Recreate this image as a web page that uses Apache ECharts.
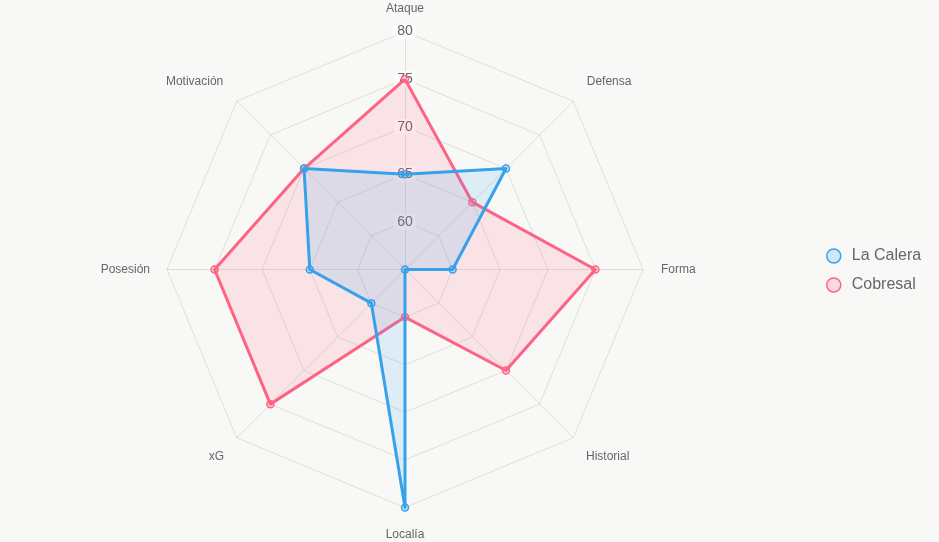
<!DOCTYPE html>
<html>
<head>
<meta charset="utf-8">
<script src="https://cdn.jsdelivr.net/npm/echarts@6/dist/echarts.min.js"></script>
<style>
  html, body { margin: 0; padding: 0; background: #f8f8f7; }
  #chart { width: 939px; height: 542px; }
</style>
</head>
<body>
<div id="chart"></div>
<script>
// categories in clockwise order starting at the top
const categories = ["Ataque", "Defensa", "Forma", "Historial", "Localía", "xG", "Posesión", "Motivación"];
const laCalera = [65, 70, 60, 55, 80, 60, 65, 70];
const cobresal = [75, 65, 75, 70, 60, 75, 75, 70];
const scaleMin = 55;
const scaleMax = 80;

// name placement per category: gap from the outer ring and a small vertical nudge
const nameGaps = [17, 19, 18, 18, 21, 18, 17, 19];
const nameNudge = ["", "up", "", "down", "", "down", "", "up"];

// echarts lays indicators out counter-clockwise, so flip the tail
const order = [0].concat(categories.map((_, i) => i).slice(1).reverse());
const pick = (arr) => order.map((i) => arr[i]);

const chart = echarts.init(document.getElementById("chart"));

const indicator = order.map((i, k) => {
  const item = { name: categories[i], min: scaleMin, max: scaleMax, nameGap: nameGaps[i] };
  if (k === 0) {
    item.axisLabel = {
      show: true,
      showMinLabel: false,
      margin: 0,
      align: "center",
      verticalAlign: "middle",
      color: "#666",
      fontSize: 14,
      fontFamily: "Liberation Sans",
      backgroundColor: "rgba(255,255,255,0.75)",
      padding: [1, 3],
    };
  }
  return item;
});

const nameFont = { color: "#666", fontSize: 12, fontFamily: "Liberation Sans" };

const option = {
  backgroundColor: "#f8f8f7",
  legend: {
    orient: "vertical",
    left: 821,
    top: 243,
    icon: "circle",
    itemWidth: 14,
    itemHeight: 14,
    itemGap: 13,
    textStyle: { color: "#666", fontSize: 16, fontFamily: "Liberation Sans", padding: [0, 0, 0, 6] },
    data: [
      { name: "La Calera", itemStyle: { color: "rgba(54,162,235,0.2)", borderColor: "#36A2EB", borderWidth: 1.5 } },
      { name: "Cobresal", itemStyle: { color: "rgba(255,99,132,0.2)", borderColor: "#FF6384", borderWidth: 1.5 } },
    ],
  },
  radar: {
    center: [405, 269.5],
    radius: 238,
    startAngle: 90,
    splitNumber: 5,
    shape: "polygon",
    indicator: indicator,
    axisName: {
      ...nameFont,
      formatter: (name) => {
        const nudge = nameNudge[categories.indexOf(name)];
        return nudge ? `{${nudge}|${name}}` : name;
      },
      rich: {
        up: { ...nameFont, padding: [0, 0, 12, 0] },
        down: { ...nameFont, padding: [12, 0, 0, 0] },
      },
    },
    nameGap: 15,
    splitArea: { show: false },
    splitLine: { lineStyle: { color: "rgba(0,0,0,0.1)", width: 1 } },
    axisLine: { lineStyle: { color: "rgba(0,0,0,0.1)", width: 1 } },
    axisTick: { show: false },
    axisLabel: { show: false },
  },
  series: [
    {
      name: "Cobresal",
      type: "radar",
      z: 2,
      symbol: "circle",
      symbolSize: 7,
      lineStyle: { color: "#FF6384", width: 3 },
      areaStyle: { color: "rgba(255,99,132,0.2)" },
      itemStyle: { color: "rgba(255,99,132,0.2)", borderColor: "#FF6384", borderWidth: 1.5 },
      data: [{ name: "Cobresal", value: pick(cobresal) }],
    },
    {
      name: "La Calera",
      type: "radar",
      z: 3,
      symbol: "circle",
      symbolSize: 7,
      lineStyle: { color: "#36A2EB", width: 3 },
      areaStyle: { color: "rgba(54,162,235,0.2)" },
      itemStyle: { color: "rgba(54,162,235,0.2)", borderColor: "#36A2EB", borderWidth: 1.5 },
      data: [{ name: "La Calera", value: pick(laCalera) }],
    },
  ],
};

chart.setOption(option);
</script>
</body>
</html>
